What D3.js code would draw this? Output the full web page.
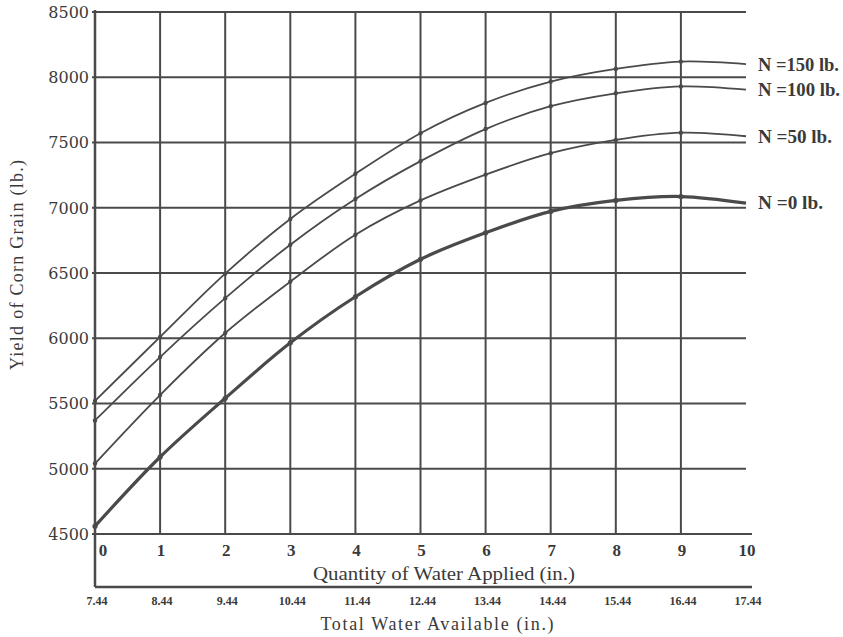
<!DOCTYPE html>
<html>
<head>
<meta charset="utf-8">
<script src="https://cdn.jsdelivr.net/npm/d3@7"></script>
<style>
  body { margin: 0; background: #fff; }
  text { font-family: "Liberation Serif", "DejaVu Serif", serif; fill: #3a3a3a; }
  .tick-y { font-family: "DejaVu Serif", serif; }
</style>
</head>
<body>
<div id="chart"></div>
<script>
// 0: DATA
const waterApplied = [0, 1, 2, 3, 4, 5, 6, 7, 8, 9, 10];
const totalWater = ["7.44", "8.44", "9.44", "10.44", "11.44", "12.44", "13.44", "14.44", "15.44", "16.44", "17.44"];
const yTicks = [4500, 5000, 5500, 6000, 6500, 7000, 7500, 8000, 8500];
const seriesNames = ["N =150 lb.", "N =100 lb.", "N =50 lb.", "N =0 lb."];
const yieldN150 = [5520, 6010, 6495, 6914, 7260, 7571, 7803, 7967, 8064, 8120, 8100];
const yieldN100 = [5370, 5856, 6307, 6717, 7067, 7357, 7603, 7778, 7877, 7930, 7905];
const yieldN50  = [5040, 5565, 6040, 6434, 6793, 7056, 7254, 7418, 7520, 7575, 7548];
const yieldN0   = [4560, 5090, 5540, 5965, 6318, 6605, 6808, 6972, 7056, 7086, 7035];

// 1: CREATE BLANK SVG
const W = 843, H = 637;
const margin = { top: 12, right: 97, bottom: 103, left: 95 },
      width = W - margin.left - margin.right,   // 651
      height = H - margin.top - margin.bottom;  // 522

const ink = "#4a4a4a";

const svg = d3.select("#chart")
    .append("svg")
    .attr("width", W)
    .attr("height", H)
    .append("g")
    .attr("transform", `translate(${margin.left},${margin.top})`);

// 2: SCALES
const x = d3.scaleLinear().domain([0, 10]).range([0, width]);
const y = d3.scaleLinear().domain([4500, 8500]).range([height, 0]);

// 3: GRID
// horizontal lines (4500 is the x axis itself)
svg.append("g")
    .selectAll("line")
    .data(yTicks)
    .enter()
    .append("line")
    .attr("x1", -3)
    .attr("x2", d => d === 4500 ? x(10) + 6 : x(10))
    .attr("y1", d => y(d))
    .attr("y2", d => y(d))
    .attr("stroke", ink)
    .attr("stroke-width", 2);

// vertical lines at 1..9 (no line at 10)
svg.append("g")
    .selectAll("line")
    .data(waterApplied.filter(d => d > 0 && d < 10))
    .enter()
    .append("line")
    .attr("x1", d => x(d))
    .attr("x2", d => x(d))
    .attr("y1", 0)
    .attr("y2", height)
    .attr("stroke", ink)
    .attr("stroke-width", 2);

// y axis runs down to the second (total water) axis
const axis2Y = height + 53;
svg.append("line")
    .attr("x1", 0).attr("x2", 0)
    .attr("y1", -2).attr("y2", axis2Y)
    .attr("stroke", ink)
    .attr("stroke-width", 2.5);

svg.append("line")
    .attr("x1", 0).attr("x2", x(10) + 6)
    .attr("y1", axis2Y).attr("y2", axis2Y)
    .attr("stroke", ink)
    .attr("stroke-width", 2.5);

// 4: TICK LABELS
svg.append("g")
    .selectAll("text")
    .data(yTicks)
    .enter()
    .append("text")
    .attr("class", "tick-y")
    .attr("x", -6)
    .attr("y", d => y(d))
    .attr("dy", "0.36em")
    .attr("text-anchor", "end")
    .style("font-size", "16px")
    .text(d => d);

svg.append("g")
    .selectAll("text")
    .data(waterApplied)
    .enter()
    .append("text")
    .attr("x", d => d === 0 ? x(d) + 8 : x(d) + 1)
    .attr("y", height + 22)
    .attr("text-anchor", "middle")
    .style("font-size", "17px")
    .style("font-weight", "bold")
    .text(d => d);

svg.append("g")
    .selectAll("text")
    .data(totalWater)
    .enter()
    .append("text")
    .attr("x", (d, i) => x(waterApplied[i]) + 2)
    .attr("y", axis2Y + 18)
    .attr("text-anchor", "middle")
    .style("font-size", "12px")
    .style("font-weight", "bold")
    .text(d => d);

// 5: CURVES
const series = [yieldN150, yieldN100, yieldN50, yieldN0];
const labelWidths = [81, 82, 74, 65];
const line = d3.line()
    .x((d, i) => x(waterApplied[i]))
    .y(d => y(d))
    .curve(d3.curveCatmullRom);

series.forEach((vals, k) => {
    const isBase = k === 3; // N = 0 is drawn heavier
    svg.append("path")
        .datum(vals)
        .attr("fill", "none")
        .attr("stroke", ink)
        .attr("stroke-width", isBase ? 3.2 : 1.8)
        .attr("d", line);

    svg.append("g")
        .selectAll("circle")
        .data(vals.slice(0, 10))
        .enter()
        .append("circle")
        .attr("cx", (d, i) => x(waterApplied[i]))
        .attr("cy", d => y(d))
        .attr("r", isBase ? 2.6 : 2.2)
        .attr("fill", ink);

    // series label at right end of the curve
    svg.append("text")
        .attr("x", x(10) + 12)
        .attr("y", y(vals[vals.length - 1]))
        .attr("dy", "0.35em")
        .attr("textLength", labelWidths[k])
        .attr("lengthAdjust", "spacingAndGlyphs")
        .style("font-size", "18px")
        .style("font-weight", "bold")
        .text(seriesNames[k]);
});

// 6: AXIS TITLES
svg.append("text")
    .attr("x", 349)
    .attr("y", height + 46)
    .attr("text-anchor", "middle")
    .attr("textLength", 262)
    .attr("lengthAdjust", "spacingAndGlyphs")
    .style("font-size", "18px")
    .text("Quantity of Water Applied (in.)");

svg.append("text")
    .attr("x", 342)
    .attr("y", axis2Y + 43)
    .attr("text-anchor", "middle")
    .attr("textLength", 233)
    .attr("lengthAdjust", "spacing")
    .style("font-size", "18px")
    .text("Total Water Available (in.)");

svg.append("text")
    .attr("transform", "rotate(-90)")
    .attr("x", -(265 - margin.top))
    .attr("y", -72)
    .attr("text-anchor", "middle")
    .attr("textLength", 210)
    .attr("lengthAdjust", "spacing")
    .style("font-size", "18px")
    .text("Yield of Corn Grain (lb.)");
</script>
</body>
</html>
